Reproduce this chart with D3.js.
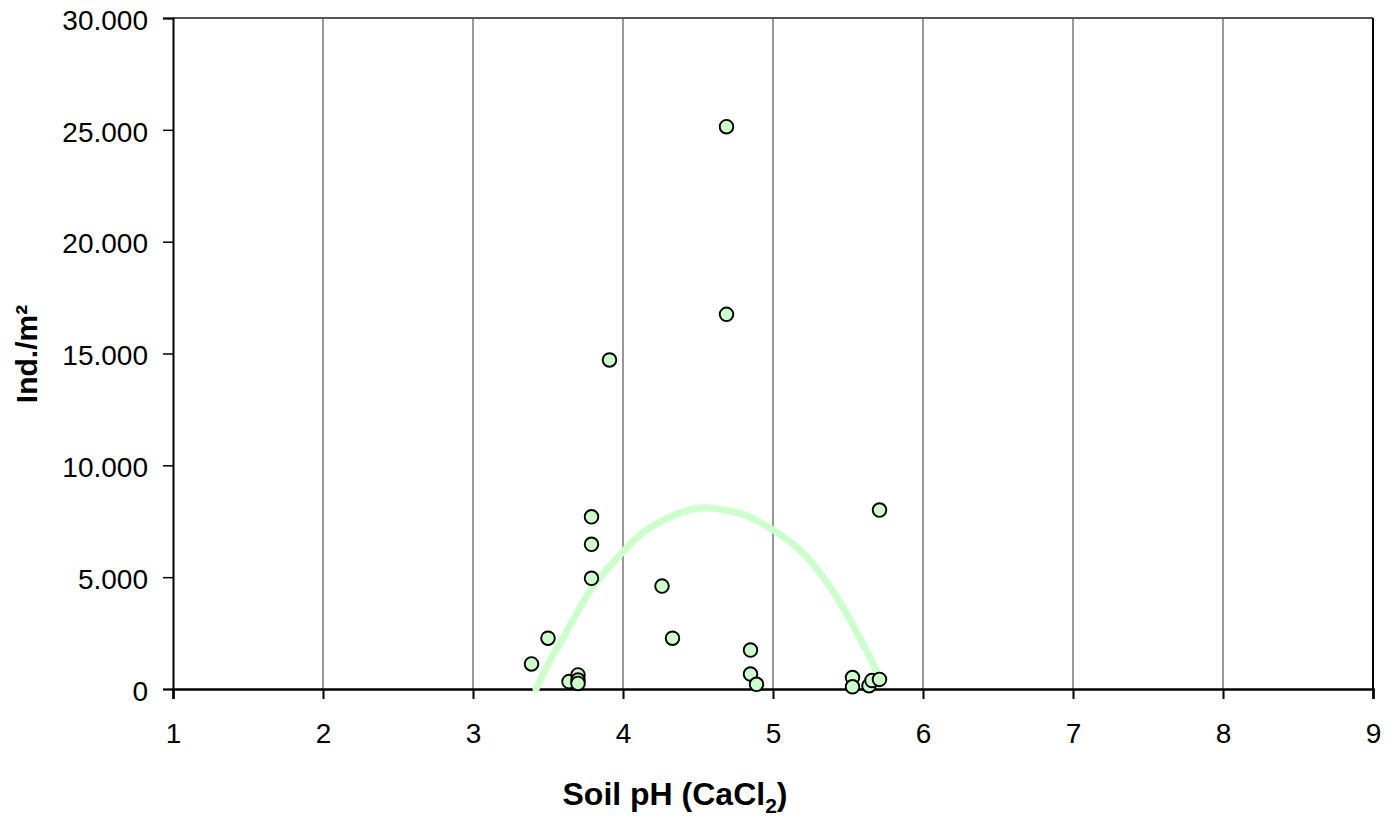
<!DOCTYPE html>
<meta http-equiv="content-type" content="text/html; charset=utf-8" />
<html>
  <head>
    <script src="https://d3js.org/d3.v7.min.js"></script>
    <style>
      body { margin: 0; background: #fff; }
      text { font-family: "Liberation Sans", Arial, sans-serif; }
    </style>
  </head>
  <body>
    <div id="viz"></div>
    <script>
      // observed samples: soil pH vs individuals per m2
      const phValues = [3.39, 3.50, 3.64, 3.70, 3.70, 3.70, 3.79, 3.79, 3.79, 3.91,
                        4.26, 4.33, 4.69, 4.69, 4.85, 4.85, 4.89, 5.53, 5.53, 5.64,
                        5.66, 5.71, 5.71];
      const densityValues = [1120, 2270, 330, 630, 400, 250, 7700, 6470, 4950, 14710,
                             4600, 2270, 25140, 16750, 1740, 670, 210, 510, 100, 150,
                             380, 430, 8000];

      // trend curve
      const trendPh = [3.42, 3.51, 3.60, 3.69, 3.80, 3.91, 4.00, 4.14, 4.27, 4.40,
                       4.56, 4.60, 4.78, 5.00, 5.18, 5.34, 5.47, 5.58, 5.65, 5.70];
      const trendDensity = [0, 1220, 2270, 3380, 4570, 5470, 6140, 7030, 7550, 7920,
                            8100, 8070, 7850, 7110, 6210, 4950, 3610, 2270, 1370, 630];

      const xTicks = [1, 2, 3, 4, 5, 6, 7, 8, 9];
      const yTicks = [0, 5000, 10000, 15000, 20000, 25000, 30000];

      let margin = {top: 18, right: 21, bottom: 129, left: 173},
          width = 1394 - margin.left - margin.right,
          height = 818 - margin.top - margin.bottom;

      let svg = d3.select('#viz')
        .append('svg')
        .attr('width', 1394)
        .attr('height', 818)
        .append('g')
        .attr('transform', `translate(${margin.left},${margin.top})`);

      let x = d3.scaleLinear().domain([1, 9]).range([0, width]);
      let y = d3.scaleLinear().domain([0, 30000]).range([height, 0]);

      const fmt = d => d === 0 ? '0' : d3.format(',')(d).replace(',', '.');

      // vertical gridlines
      svg.append('g')
        .selectAll('line')
        .data(xTicks.slice(1, -1))
        .join('line')
        .attr('x1', d => x(d)).attr('x2', d => x(d))
        .attr('y1', 0).attr('y2', height)
        .attr('stroke', '#333')
        .attr('stroke-width', 1);

      // plot border top and right
      svg.append('line')
        .attr('x1', 0).attr('x2', width)
        .attr('y1', 0).attr('y2', 0)
        .attr('stroke', '#555').attr('stroke-width', 2);
      svg.append('line')
        .attr('x1', width).attr('x2', width)
        .attr('y1', 0).attr('y2', height)
        .attr('stroke', '#000').attr('stroke-width', 2);

      // y axis
      let yAxis = svg.append('g')
        .call(d3.axisLeft(y).tickValues(yTicks).tickFormat(fmt).tickSize(10).tickPadding(15));
      yAxis.select('.domain').attr('stroke', '#000').attr('stroke-width', 2);
      yAxis.selectAll('.tick line').attr('stroke-width', 1.5);
      yAxis.selectAll('text')
        .style('font-size', '28px')
        .attr('fill', '#000')
        .attr('dy', '0.4em');

      // x axis
      let xAxis = svg.append('g')
        .attr('transform', `translate(0,${height})`)
        .call(d3.axisBottom(x).tickValues(xTicks).tickSize(10).tickPadding(24));
      xAxis.select('.domain').attr('stroke', '#000').attr('stroke-width', 2.5);
      xAxis.selectAll('.tick line').attr('stroke-width', 2);
      xAxis.selectAll('text')
        .style('font-size', '28px')
        .attr('fill', '#000');

      // trend curve
      const trend = trendPh.map((p, i) => ({ph: p, v: trendDensity[i]}));
      svg.append('path')
        .datum(trend)
        .attr('fill', 'none')
        .attr('stroke', '#ccffcc')
        .attr('stroke-width', 7)
        .attr('stroke-linecap', 'round')
        .attr('d', d3.line().x(d => x(d.ph)).y(d => y(d.v)).curve(d3.curveMonotoneX));

      // points
      const pts = phValues.map((p, i) => ({ph: p, v: densityValues[i]}));
      svg.append('g')
        .selectAll('circle')
        .data(pts)
        .join('circle')
        .attr('cx', d => x(d.ph))
        .attr('cy', d => y(d.v))
        .attr('r', 6.8)
        .attr('fill', '#ccffcc')
        .attr('stroke', '#000')
        .attr('stroke-width', 1.9);

      // axis titles
      let xTitle = svg.append('text')
        .attr('text-anchor', 'middle')
        .attr('x', (563 + 787) / 2 - margin.left)
        .attr('y', 805 - margin.top)
        .style('font-size', '32px')
        .style('font-weight', 'bold');
      xTitle.append('tspan').text('Soil pH (CaCl');
      xTitle.append('tspan').text('2').attr('dy', 8).style('font-size', '21px');
      xTitle.append('tspan').text(')').attr('dy', -8);

      svg.append('text')
        .attr('text-anchor', 'middle')
        .attr('transform', `translate(${37 - margin.left},${354 - margin.top})rotate(-90)`)
        .style('font-size', '30px')
        .style('font-weight', 'bold')
        .text('Ind./m²');
    </script>
  </body>
</html>
